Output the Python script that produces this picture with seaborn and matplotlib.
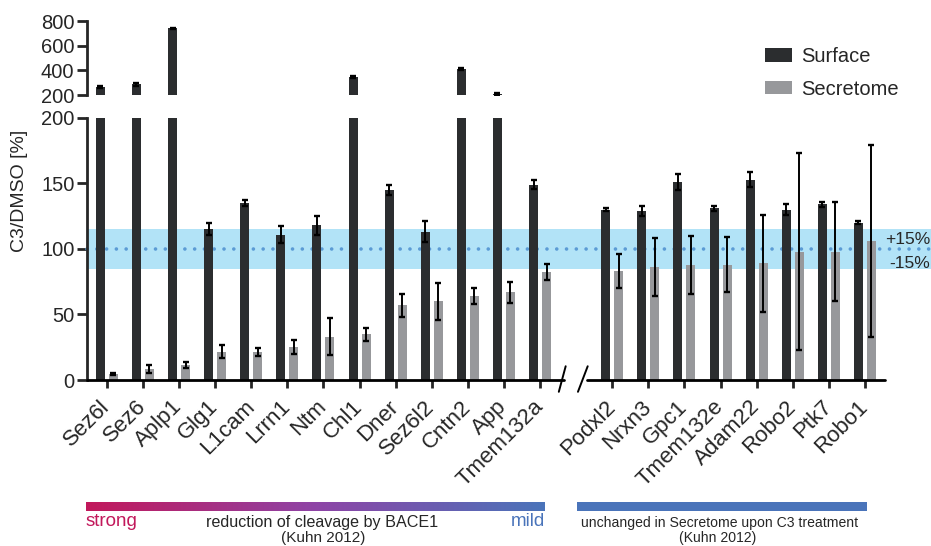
import numpy as np
import pandas as pd
import matplotlib
matplotlib.use("Agg")
import matplotlib.pyplot as plt
import seaborn as sns
from matplotlib.colors import LinearSegmentedColormap

# -------------------------------------
# data
# -------------------------------------
genes_left = ["Sez6l", "Sez6", "Aplp1", "Glg1", "L1cam", "Lrrn1", "Ntm", "Chl1",
              "Dner", "Sez6l2", "Cntn2", "App", "Tmem132a"]
genes_right = ["Podxl2", "Nrxn3", "Gpc1", "Tmem132e", "Adam22", "Robo2", "Ptk7", "Robo1"]

surface = [262, 287, 741, 115, 135, 111, 118, 346, 145, 113, 411, 208, 149,
           130, 129, 151, 131, 153, 130, 134, 120]
surface_err = [8, 12, 5, 4.5, 2.5, 6.5, 7, 6, 4, 8, 6, 6, 3.5,
               1, 4, 6, 2, 6, 4, 2, 1]

secretome = [4.5, 8.5, 11.5, 21.5, 21.5, 25, 33, 35, 57, 60, 64, 67, 82.5,
             83, 86, 88, 88, 89, 98, 98, 106]
secretome_err = [1, 3, 2, 5, 3, 5.5, 14, 5, 9, 14, 6, 8, 6,
                 13, 22, 22, 21, 37, 75, 38, 73]

band_low, band_high = 85, 115

# one empty slot between the two groups (axis break)
positions = list(range(len(genes_left))) + \
    list(range(len(genes_left) + 1, len(genes_left) + 1 + len(genes_right)))
genes = genes_left + genes_right
n = len(genes)

df = pd.DataFrame({
    "pos": positions * 2,
    "gene": genes * 2,
    "condition": ["Surface"] * n + ["Secretome"] * n,
    "value": surface + secretome,
    "err": surface_err + secretome_err,
})

colors = {"Surface": "#2a2d30", "Secretome": "#96989c"}
offsets = {"Surface": -0.18, "Secretome": 0.18}

sns.set_style("ticks")
plt.rcParams["font.family"] = ["Liberation Sans", "DejaVu Sans"]

fig = plt.figure(figsize=(9.31, 5.46), dpi=100)
ax_top = fig.add_axes([0.0934, 0.826, 0.857, 0.1355])
ax = fig.add_axes([0.0934, 0.304, 0.857, 0.48])

xlim = (-0.55, positions[-1] + 0.55)

for a in (ax_top, ax):
    sns.barplot(data=df, x="pos", y="value", hue="condition", native_scale=True,
                width=0.72, gap=0.31, palette=colors, errorbar=None, ax=a,
                legend=(a is ax), zorder=3, linewidth=0)
    for cond, sub in df.groupby("condition"):
        a.errorbar(sub["pos"] + offsets[cond], sub["value"], yerr=sub["err"],
                   fmt="none", ecolor="black", elinewidth=1.4, capsize=2.2,
                   capthick=1.7, zorder=4)
    a.set_xlim(*xlim)
    a.set_xlabel("")
    a.set_ylabel("")
    for s in ["top", "right", "bottom"]:
        a.spines[s].set_visible(False)
    a.spines["left"].set_linewidth(2)
    a.tick_params(axis="y", direction="out", length=7, width=2, labelsize=14.5, pad=2)

# upper panel
ax_top.set_ylim(200, 800)
ax_top.set_yticks([200, 400, 600, 800])
ax_top.set_xticks([])

# lower panel
ax.set_ylim(0, 200)
ax.set_yticks([0, 50, 100, 150, 200])
ax.set_xticks(positions)
ax.set_xticklabels(genes, rotation=45, ha="right", va="center",
                   rotation_mode="anchor", fontsize=16)
ax.tick_params(axis="x", direction="out", length=6, width=2, pad=11)

# +-15% band and 100 % line
ax.axhspan(band_low, band_high, xmin=0, xmax=1.058, color="#b2e3f7", lw=0,
           zorder=0, clip_on=False)
ax.axhline(100, xmin=0, xmax=1.058, color="#5b9bd5", lw=2.6,
           linestyle=(0, (0.01, 2.7)), dash_capstyle="round", clip_on=False, zorder=1)

# broken x axis
gap = len(genes_left)
ax.plot([xlim[0], gap - 0.35], [0, 0], color="black", lw=2, clip_on=False, zorder=5)
ax.plot([gap + 0.3, xlim[1]], [0, 0], color="black", lw=2, clip_on=False, zorder=5)
ax.plot([gap - 0.48, gap - 0.29], [-9, 10.5], color="black", lw=1.4, clip_on=False, zorder=5)
ax.plot([gap + 0.05, gap + 0.32], [-9, 10.5], color="black", lw=1.4, clip_on=False, zorder=5)

# legend
leg = ax.get_legend()
handles = leg.legend_handles
labels = [t.get_text() for t in leg.get_texts()]
leg.remove()
fig.legend(handles, labels, loc="upper left", bbox_to_anchor=(765 / 931, 1 - 47 / 546),
           frameon=False, fontsize=14.5, handlelength=1.35, handleheight=0.65,
           handletextpad=0.45, labelspacing=0.68, borderpad=0, borderaxespad=0)

# texts
fig.text(20 / 931, 1 - 191 / 546, "C3/DMSO [%]", rotation=90, ha="center",
         va="center", fontsize=14)
fig.text(930 / 931, 1 - 239 / 546, "+15%", ha="right", va="center", fontsize=12.5)
fig.text(930 / 931, 1 - 263 / 546, "-15%", ha="right", va="center", fontsize=12.5)

# bottom annotation bars
grad = LinearSegmentedColormap.from_list("bace", ["#c2185b", "#8e44a6", "#4a74ba"])
ax_g = fig.add_axes([86 / 931, 1 - 511 / 546, (545 - 86) / 931, 9 / 546])
ax_g.imshow(np.linspace(0, 1, 256)[None, :], aspect="auto", cmap=grad)
ax_g.set_axis_off()
ax_b = fig.add_axes([577 / 931, 1 - 511 / 546, (867 - 577) / 931, 9 / 546])
ax_b.set_facecolor("#4a74ba")
ax_b.set_xticks([])
ax_b.set_yticks([])
for s in ax_b.spines.values():
    s.set_visible(False)

fig.text(86 / 931, 1 - 522 / 546, "strong", ha="left", va="center",
         color="#c2185b", fontsize=13.5)
fig.text(545 / 931, 1 - 522 / 546, "mild", ha="right", va="center",
         color="#4a74ba", fontsize=13.5)
fig.text(322 / 931, 1 - 523 / 546, "reduction of cleavage by BACE1", ha="center",
         va="center", fontsize=11.6)
fig.text(323 / 931, 1 - 538 / 546, "(Kuhn 2012)", ha="center", va="center", fontsize=11)
fig.text(720 / 931, 1 - 523 / 546, "unchanged in Secretome upon C3 treatment",
         ha="center", va="center", fontsize=10.1)
fig.text(718 / 931, 1 - 538 / 546, "(Kuhn 2012)", ha="center", va="center", fontsize=10.1)

fig.savefig("out.png", dpi=100)
